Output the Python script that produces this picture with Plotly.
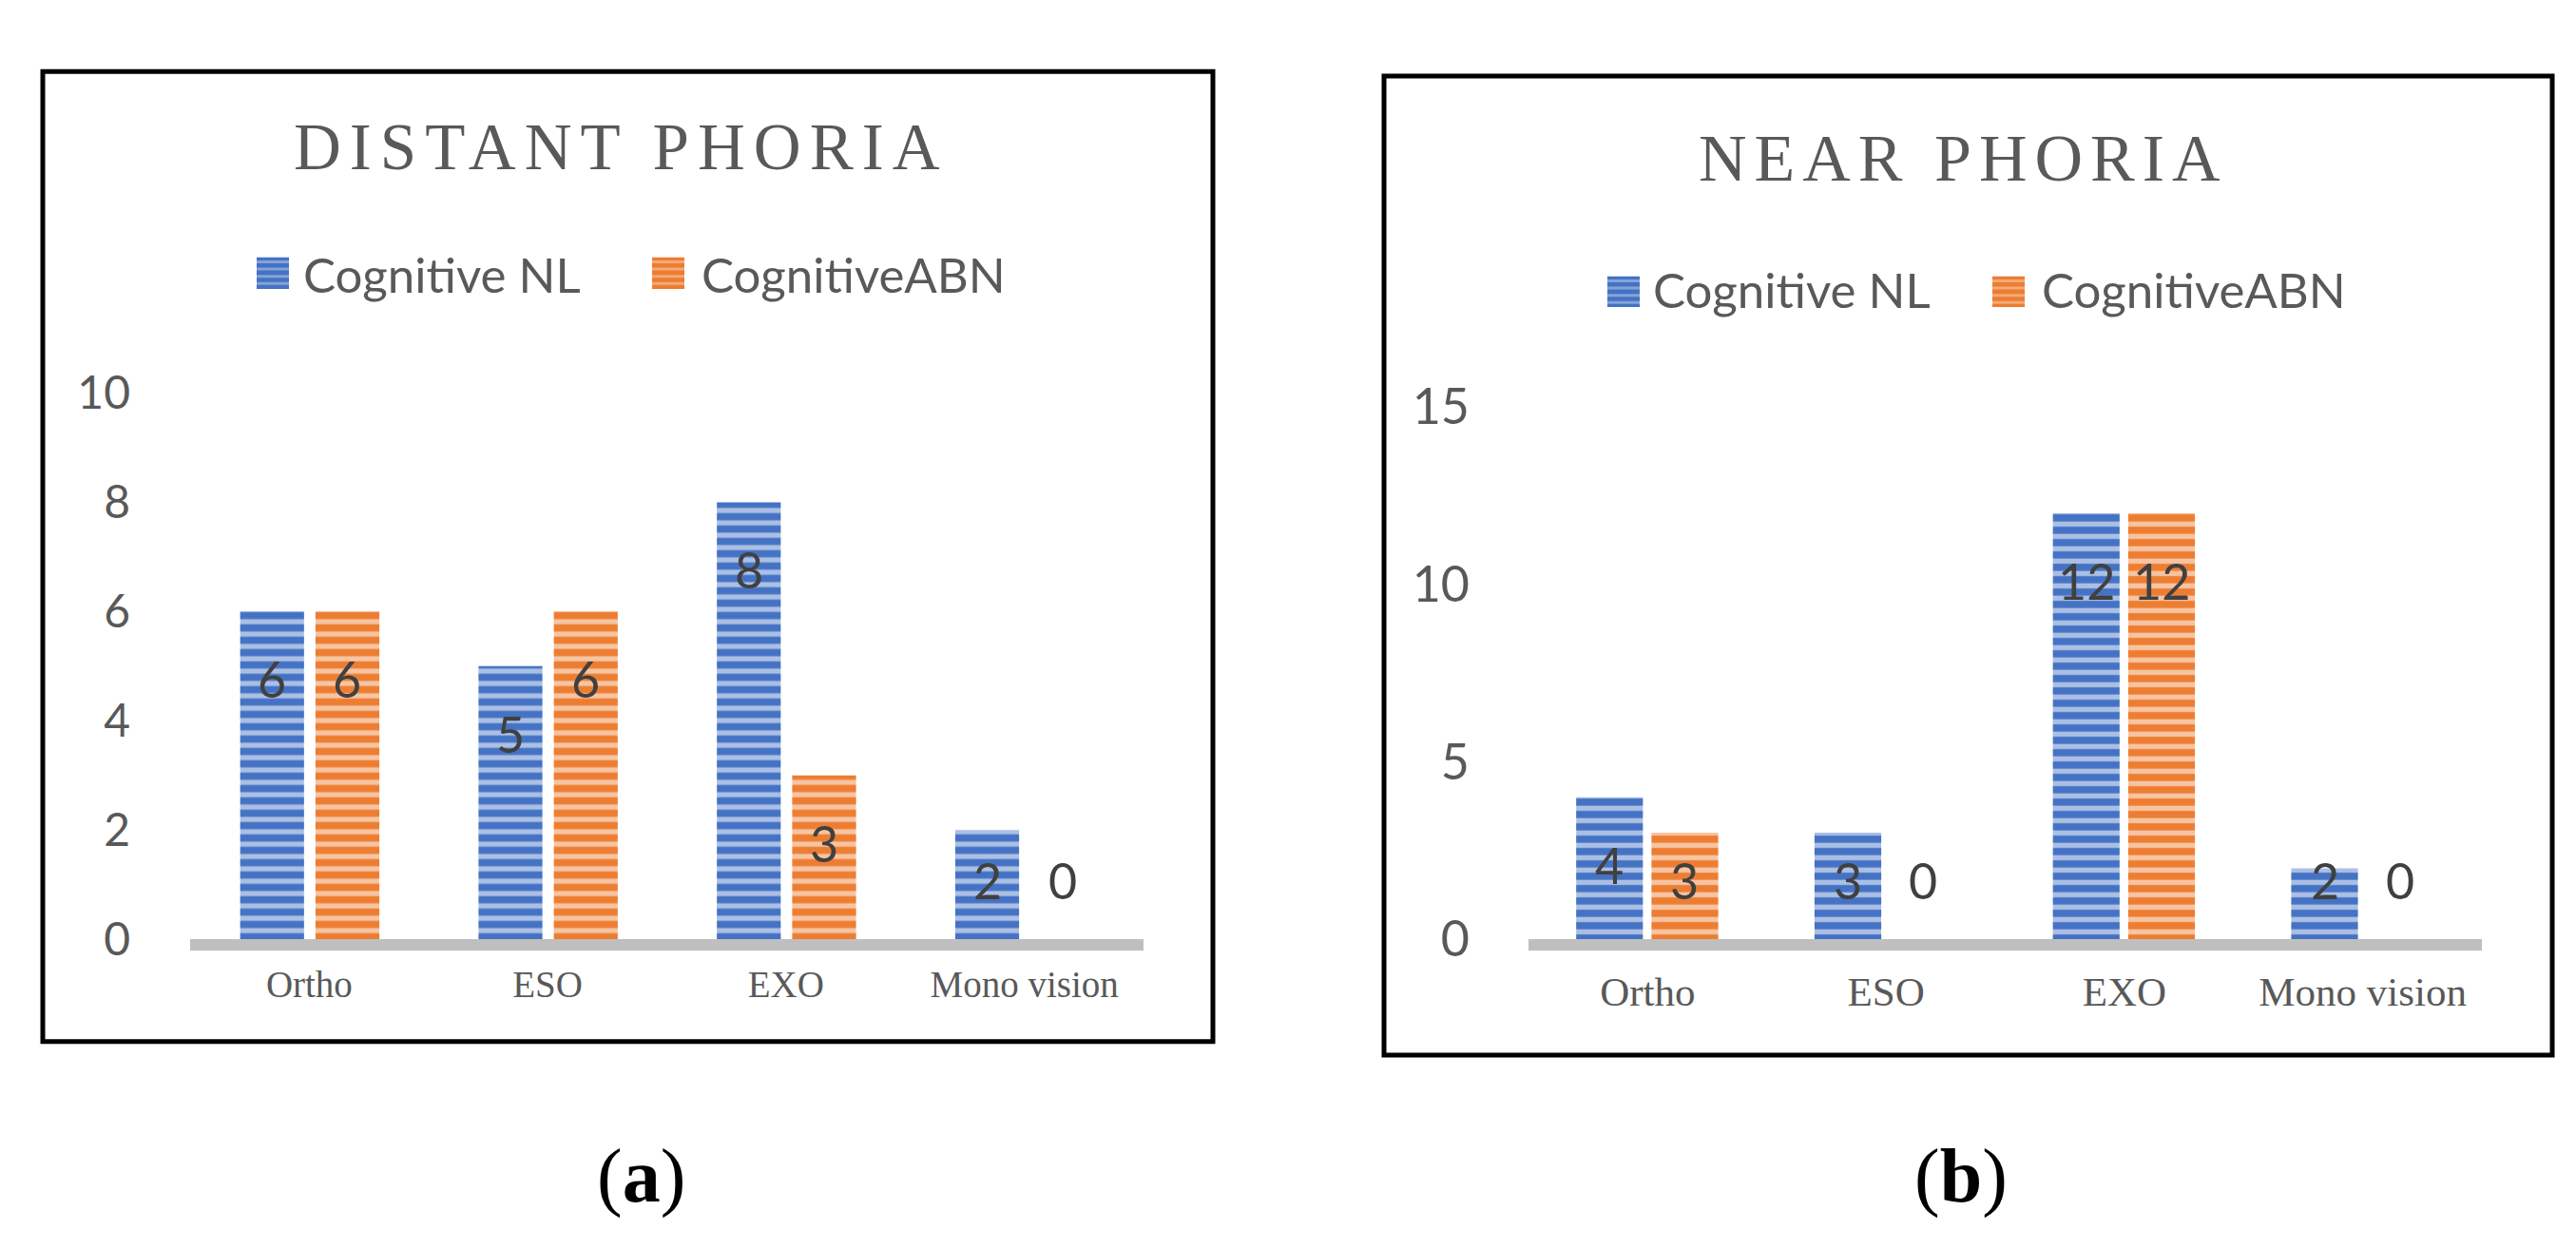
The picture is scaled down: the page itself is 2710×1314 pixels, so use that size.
import plotly.graph_objects as go

# ---------------- data ----------------
categories = ["Ortho", "ESO", "EXO", "Mono vision"]
series_names = ["Cognitive NL", "CognitiveABN"]
distant_nl = [6, 5, 8, 2]
distant_abn = [6, 6, 3, 0]
near_nl = [4, 3, 12, 2]
near_abn = [3, 0, 12, 0]
distant_ticks = [0, 2, 4, 6, 8, 10]
near_ticks = [0, 5, 10, 15]
titles = ["DISTANT PHORIA", "NEAR PHORIA"]
captions = ["a", "b"]

# ---------------- style ----------------
W, H = 2710, 1314
BLUE = "#4472C4"
ORANGE = "#ED7D31"
GRAY_TXT = "#595959"
LBL_TXT = "#404040"
SANS = "Lato, Carlito, Calibri, sans-serif"
SERIF = "Liberation Serif, Times New Roman, serif"


def px(x):
    return x / W


def py(y):
    return 1 - y / H


panels = [
    dict(xa="x", ya="y", nl=distant_nl, abn=distant_abn, ticks=distant_ticks,
         rng=[0, 10], xdom=[192, 1195], y0=994, ytop=391,
         width=0.268, offs=(-0.290, 0.026), shift=(-39, 40),
         box=(37, 36, 1268, 1107), title=titles[0], title_xy=(645, 120), title_size=69,
         title_sp=9, leg=(262, 678, 241, 276, 309, 728, 260), tick_size=48, cat_size=39,
         cat_standoff=2, tick_standoff=62, cap=captions[0], cap_x=666),
    dict(xa="x2", ya="y2", nl=near_nl, abn=near_abn, ticks=near_ticks,
         rng=[0, 15], xdom=[1600, 2603], y0=994, ytop=406,
         width=0.28, offs=(-0.300, 0.016), shift=(-40, 39),
         box=(1448, 41, 2677, 1122), title=titles[1], title_xy=(2057, 132), title_size=70,
         title_sp=8, leg=(1683, 2088, 262, 296, 1729, 2138, 277), tick_size=52, cat_size=43,
         cat_standoff=6, tick_standoff=61, cap=captions[1], cap_x=2055),
]

fig = go.Figure()
shapes = []
annotations = []

for i, p in enumerate(panels):
    ppu = (p["y0"] - p["ytop"]) / (p["rng"][1] - p["rng"][0])
    for k, (vals, color) in enumerate([(p["nl"], BLUE), (p["abn"], ORANGE)]):
        fig.add_trace(go.Bar(
            x=categories, y=vals, name=series_names[k],
            xaxis=p["xa"], yaxis=p["ya"],
            width=p["width"], offset=p["offs"][k],
            marker=dict(color=color, line=dict(width=0),
                        pattern=dict(shape="-", fillmode="overlay", fgcolor="white",
                                     fgopacity=0.55, size=13, solidity=0.42)),
            showlegend=False,
        ))
        for c, v in zip(categories, vals):
            if v * ppu - 71 >= 62:
                yv, ys = v, -71
            else:
                yv, ys = 0, 62
            annotations.append(dict(
                x=c, y=yv, xref=p["xa"], yref=p["ya"], xshift=p["shift"][k], yshift=ys,
                text=str(v), showarrow=False, xanchor="center", yanchor="middle",
                font=dict(family=SANS, size=52, color=LBL_TXT)))

    # panel border
    bx0, by0, bx1, by1 = p["box"]
    shapes.append(dict(type="rect", xref="paper", yref="paper",
                       x0=px(bx0), x1=px(bx1), y0=py(by1), y1=py(by0),
                       line=dict(color="black", width=5), fillcolor="rgba(0,0,0,0)",
                       layer="above"))
    # title
    tx, ty = p["title_xy"]
    annotations.append(dict(
        x=px(tx), y=py(ty), xref="paper", yref="paper", showarrow=False,
        xanchor="center", yanchor="middle",
        text='<span style="letter-spacing:%dpx">%s</span>' % (p["title_sp"], p["title"]),
        font=dict(family=SERIF, size=p["title_size"], color=GRAY_TXT)))
    # legend (manual)
    bsx, osx, sy0, sy1, btx, otx, tyc = p["leg"]
    for sx, col, tx_, name in [(bsx, BLUE, btx, series_names[0]),
                               (osx, ORANGE, otx, series_names[1])]:
        shapes.append(dict(type="rect", xref="paper", yref="paper",
                           x0=px(sx), x1=px(sx + 34), y0=py(sy1), y1=py(sy0),
                           line=dict(width=0), fillcolor=col))
        for j in range(4):
            yy = sy0 + 5 + j * 8
            shapes.append(dict(type="line", xref="paper", yref="paper",
                               x0=px(sx), x1=px(sx + 34), y0=py(yy), y1=py(yy),
                               line=dict(color="rgba(255,255,255,0.35)", width=3)))
        annotations.append(dict(
            x=px(tx_), y=py(tyc), xref="paper", yref="paper", showarrow=False,
            xanchor="left", yanchor="middle", text=name,
            font=dict(family=SANS, size=51, color=GRAY_TXT)))
    # caption
    annotations.append(dict(
        x=px(p["cap_x"]), y=py(1256), xref="paper", yref="paper", showarrow=False,
        xanchor="center", yanchor="middle", text="(<b>%s</b>)" % p["cap"],
        font=dict(family=SERIF, size=80, color="black")))

    xaxis = dict(domain=[px(p["xdom"][0]), px(p["xdom"][1])], anchor=p["ya"],
                 type="category", categoryorder="array", categoryarray=categories,
                 range=[-0.5, 3.5], showline=True, linecolor="#BFBFBF", linewidth=12,
                 showgrid=False, zeroline=False, ticks="",
                 ticklabelstandoff=p["cat_standoff"],
                 tickfont=dict(family=SERIF, size=p["cat_size"], color=GRAY_TXT),
                 fixedrange=True)
    yaxis = dict(domain=[py(p["y0"]), py(p["ytop"])], anchor=p["xa"],
                 range=p["rng"], tickmode="array", tickvals=p["ticks"],
                 ticktext=[str(t) for t in p["ticks"]],
                 showline=False, showgrid=False, zeroline=False, ticks="",
                 ticklabelstandoff=p["tick_standoff"],
                 tickfont=dict(family=SANS, size=p["tick_size"], color=GRAY_TXT),
                 fixedrange=True)
    if i == 0:
        fig.update_layout(xaxis=xaxis, yaxis=yaxis)
    else:
        fig.update_layout(xaxis2=xaxis, yaxis2=yaxis)

fig.update_layout(
    width=W, height=H, margin=dict(l=0, r=0, t=0, b=0),
    paper_bgcolor="white", plot_bgcolor="white",
    barmode="group", showlegend=False,
    shapes=shapes, annotations=annotations,
)

fig.write_html("out.html")
